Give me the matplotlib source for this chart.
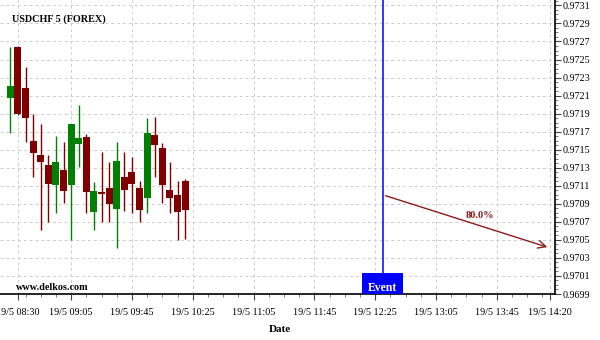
import numpy as np
import matplotlib
matplotlib.use("Agg")
import matplotlib.pyplot as plt
import matplotlib.transforms as mtransforms
from matplotlib.patches import Rectangle

plt.rcParams["font.family"] = ["Liberation Serif", "DejaVu Serif"]

# 5 minute bars, 19/5 08:25 .. 10:20
bar_times = ["08:25", "08:30", "08:35", "08:40", "08:45", "08:50", "08:55", "09:00",
             "09:05", "09:10", "09:15", "09:20", "09:25", "09:30", "09:35", "09:40",
             "09:45", "09:50", "09:55", "10:00", "10:05", "10:10", "10:15", "10:20"]
opens = [0.97207, 0.97264, 0.97218, 0.97160, 0.97144, 0.97133, 0.97111, 0.97127,
         0.97111, 0.97156, 0.97164, 0.97081, 0.97103, 0.97107, 0.97084, 0.97120,
         0.97125, 0.97107, 0.97097, 0.97166, 0.97152, 0.97105, 0.97100, 0.97115]
highs = [0.97264, 0.97265, 0.97242, 0.97190, 0.97179, 0.97144, 0.97165, 0.97158,
         0.97178, 0.97200, 0.97167, 0.97114, 0.97147, 0.97136, 0.97158, 0.97147,
         0.97142, 0.97115, 0.97185, 0.97186, 0.97157, 0.97136, 0.97115, 0.97118]
lows = [0.97169, 0.97189, 0.97159, 0.97120, 0.97061, 0.97070, 0.97080, 0.97091,
        0.97050, 0.97131, 0.97080, 0.97061, 0.97070, 0.97070, 0.97041, 0.97082,
        0.97080, 0.97070, 0.97080, 0.97120, 0.97091, 0.97080, 0.97050, 0.97051]
closes = [0.97221, 0.97190, 0.97185, 0.97146, 0.97136, 0.97112, 0.97136, 0.97104,
          0.97178, 0.97163, 0.97103, 0.97104, 0.97101, 0.97090, 0.97138, 0.97105,
          0.97112, 0.97083, 0.97168, 0.97155, 0.97111, 0.97096, 0.97081, 0.97083]

tick_times = ["08:30", "09:05", "09:45", "10:25", "11:05", "11:45", "12:25", "13:05", "13:45", "14:20"]
event_time = "12:30"
forecast_end = ("14:20", 0.97041)
forecast_start_price = 0.97100
forecast_label = "80.0%"

UP = "#008000"
DOWN = "#800000"
ARROW = "#8f1a1a"


def to_min(hhmm):
    h, m = hhmm.split(":")
    return int(h) * 60 + int(m)


x = np.array([to_min(t) for t in bar_times], dtype=float)
o, h, l, c = map(np.array, (opens, highs, lows, closes))
colors = np.where(c >= o, UP, DOWN)

fig = plt.figure(figsize=(6, 3.4), dpi=100)
ax = fig.add_axes([0.0, 46 / 340, 555 / 600, 294 / 340])

# candles
ax.vlines(x, l, h, colors=colors, linewidth=1.0, zorder=3)
ax.bar(x, np.abs(c - o), bottom=np.minimum(o, c), width=4.6, color=colors,
       linewidth=0, zorder=4)

ax.set_xlim(498.2, 863.3)
ax.set_ylim(0.96990, 0.97316)

# axes cosmetics
for side in ("left", "top"):
    ax.spines[side].set_visible(False)
ax.spines["right"].set_linewidth(1.2)
ax.spines["bottom"].set_linewidth(1.2)
ax.yaxis.tick_right()

major_x = [to_min(t) for t in tick_times]
ax.set_xticks(major_x)
ax.set_xticklabels(["19/5 " + t for t in tick_times])
ax.set_xticks(np.arange(to_min("08:35"), to_min("14:20"), 10), minor=True)

yt = np.arange(0.9699, 0.97311, 0.0002)
ax.set_yticks(yt)
ax.set_yticklabels([f"{v:.4f}" for v in yt])
ax.set_yticks(np.arange(0.9699, 0.97316, 0.00005), minor=True)

ax.tick_params(axis="both", which="major", labelsize=7.3, length=4, width=0.8, color="#444444")
ax.tick_params(axis="both", which="minor", length=2, width=0.6, color="#666666")
ax.tick_params(axis="x", which="major", pad=6)
ax.tick_params(axis="y", which="major", pad=1.5)

ax.grid(True, which="major", color="#cccccc", linestyle=(0, (3, 3)), linewidth=0.7, zorder=0)
ax.set_axisbelow(True)

# event marker
ev = to_min(event_time)
ax.axvline(ev, color="#0000ff", linewidth=1.1, zorder=5)
trans = mtransforms.blended_transform_factory(ax.transData, ax.transAxes)
ax.add_patch(Rectangle((ev - 13.5, 0), 27, 21 / 294, transform=trans,
                       facecolor="#0000ff", edgecolor="none", zorder=6))
ax.text(ev, 6 / 294, "Event", transform=trans, ha="center", va="center",
        color="white", fontsize=8.5, fontweight="bold", zorder=7)

# forecast arrow
ax.annotate("", xy=(to_min(forecast_end[0]), forecast_end[1]),
            xytext=(ev, forecast_start_price),
            arrowprops=dict(arrowstyle="->", color=ARROW, lw=1.0, mutation_scale=14),
            zorder=6)
ax.text(to_min("13:34"), 0.97077, forecast_label, ha="center", va="center",
        color=ARROW, fontsize=7.5, fontweight="bold")

# texts
ax.text(12 / 555, 1 - 19 / 294, "USDCHF 5 (FOREX)", transform=ax.transAxes,
        ha="left", va="center", fontsize=7.3, fontweight="bold")
ax.text(16 / 555, 6 / 294, "www.delkos.com", transform=ax.transAxes,
        ha="left", va="center", fontsize=7.3, fontweight="bold")
fig.text(280 / 600, 1 - 330 / 340, "Date", ha="center", va="center",
         fontsize=8, fontweight="bold")

fig.savefig("out.png", dpi=100)
